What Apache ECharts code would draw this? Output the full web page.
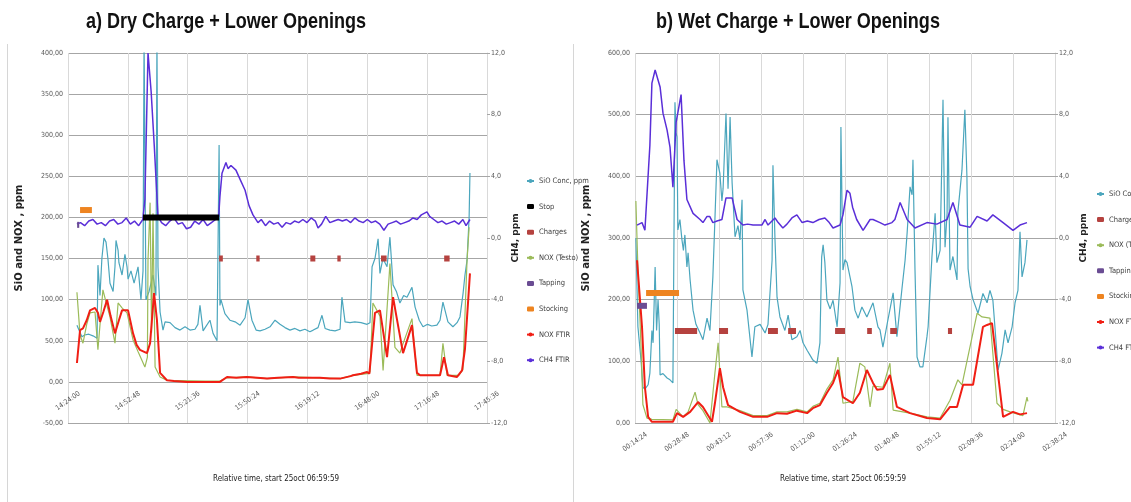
<!DOCTYPE html>
<html>
<head>
<meta charset="utf-8">
<title>SiO / NOX / CH4</title>
<script src="https://cdn.jsdelivr.net/npm/echarts@6/dist/echarts.min.js"></script>
</head>
<body style="margin:0;background:#fff">
<div id="main" style="width:1131px;height:502px;"></div>
<script type="text/javascript">
// time is in minutes (panel a: clock time, panel b: relative time)
var ticksA = { min: 864, max: 1065.6, step: 28.8 };   // 14:24:00 .. 17:45:36
var ticksB = { min: 14.4, max: 158.4, step: 14.4 };   // 00:14:24 .. 02:38:24

// ---- a) Dry charge ----
var sioA = [[868.3,69],[869.8,60],[870.7,55],[872,57],[874,58],[876,56],[878,53],
  [878.4,142],[879.4,105],[880.3,150],[881.3,175],[882.3,170],[883.2,150],[884.2,120],[885.7,110],[886.6,140],[887.1,172],
  [888.1,160],[888.5,145],[890,130],[891.4,155],[892.4,140],[892.9,125],[894.3,135],[895.8,120],[897.7,140],[899.1,100],
  [900.1,135],[900.6,420],[901.5,100],[903,110],[904.9,130],[906.3,105],[906.8,420],[907.3,140],[908.3,85],[909.7,63],
  [910.7,73],[913.1,72],[915.5,66],[917.9,63],[920.3,67],[922.7,63],[925.1,64],[926.5,70],[927.5,93],[929,62],[930,66],
  [932.3,75],[933.8,59],[935.7,50],[936.4,52],[936.7,288],[937.1,93],[937.6,100],[939.5,83],[941.9,75],[944.4,73],
  [946.8,69],[949.2,78],[950.6,100],[952.5,75],[954.5,63],[956.4,62],[958.8,64],[961.2,67],[963.6,75],[966,70],
  [968.4,66],[970.8,63],[973.2,65],[975.6,62],[978,64],[980.4,61],[982,63],[984.3,66],[986.2,81],[987.7,65],[990,63],
  [992.5,62],[994.9,64],[995.8,103],[997.3,73],[999.7,72],[1002,73],[1005,72],[1007.9,70],[1009.3,72],
  [1010.3,140],[1011.7,150],[1013.2,174],[1014.1,132],[1015.5,150],[1017.5,140],[1018.9,176],[1020.4,118],[1022,110],
  [1023.7,96],[1025.5,105],[1027.1,103],[1029.5,115],[1031,91],[1033,75],[1034.8,67],[1037,70],[1039,68],[1041.5,69],
  [1043,75],[1044.4,97],[1046.8,73],[1049.2,67],[1051.2,72],[1052.6,79],[1054.1,108],[1055,130],[1056,148],[1057,200],[1057.4,254]];

var noxTestoA = [[868.3,109],[869.8,57],[871.2,47],[873,70],[874.6,84],[877,85],[878.4,39],[880.8,112],[882,100],
  [884.2,79],[886.6,47],[888.1,96],[890,90],[892.4,84],[895.3,51],[898,35],[901,18],[902.2,30],[902.5,148],[903.5,218],
  [904.2,60],[904.9,205],[905.9,18],[908.3,6],[911.6,2],[930,1],[937.1,1],[940.5,5],[950,6],[960,4],[972,6],[985,5],
  [995,4],[1001,8],[1007.9,10],[1009.3,12],[1010.7,96],[1014.1,80],[1015.6,14],[1018.9,144],[1021.3,42],[1023.7,35],
  [1025,45],[1029.5,77],[1031.9,8],[1043,8],[1044.4,47],[1046.4,8],[1052,8],[1054,15],[1056,148],[1057,188]];

var noxFtirA = [[868.3,23],[869.8,63],[871.2,65],[873,75],[874.6,87],[877,90],[878.4,84],[879.4,73],[881,85],[882.8,100],
  [884.5,80],[886.6,59],[888.5,75],[890,87],[892.9,87],[895.3,59],[897,45],[898.6,39],[902,35],[903.5,47],[905.4,108],
  [906.8,75],[908.3,11],[911.6,2],[915,1],[921.3,0],[930,0],[937.1,0],[940.5,6],[945,5],[950,6],[955,5],[959.7,4],
  [965,5],[972.3,6],[975,5],[980,5],[985.2,5],[990,4],[994.9,4],[1000,7],[1001.1,8],[1005,10],[1007.9,12],[1009,10],
  [1011.7,84],[1014.1,87],[1017.5,30],[1020.4,103],[1022,80],[1025.2,35],[1029.5,69],[1031.9,11],[1033.4,8],[1043,8],
  [1044.9,30],[1046.8,8],[1051.2,6],[1053.6,14],[1055,40],[1057.4,132]];

var ch4A = [[868.3,0.9],[870,1.0],[872,0.8],[874,1.1],[876,1.2],[878,0.9],[880,1.0],[882,0.8],[884,1.1],[886,1.2],
  [888,0.9],[890,1.0],[892,1.3],[894,0.9],[896,1.1],[898,0.8],[900,1.2],[901,2.5],[902.5,12.0],[904,9.5],[905.5,6.0],
  [907.3,1.4],[909,1.0],[911,0.8],[913,1.1],[915,1.3],[917,0.9],[919,1.0],[921,0.6],[923,0.7],[925,1.1],[927,0.9],
  [929,1.2],[931,0.8],[933,1.0],[935,1.2],[936.5,1.4],[937.1,2.7],[938.1,4.2],[940,4.9],[941,4.5],[942.4,4.7],
  [944.8,4.4],[946.8,3.8],[949.2,3.1],[951.1,2.1],[953,1.5],[955.4,1.0],[957,1.2],[959,0.8],[961,1.1],[963,0.9],
  [965,1.0],[967,0.7],[969,1.0],[971,0.9],[973,1.1],[975,1.0],[977,1.2],[979,1.0],[981,1.3],[983,1.1],[984.3,0.65],
  [986,0.9],[988,1.4],[990,1.0],[992,1.1],[994,1.2],[996,1.1],[998,1.2],[1000,1.0],[1002,1.3],[1004,1.1],[1006,1.0],
  [1008,1.2],[1010,1.0],[1012,1.1],[1014,0.9],[1016,0.5],[1018,0.9],[1020,1.0],[1022,1.1],[1024,0.9],[1026,1.0],
  [1028,1.1],[1030,1.3],[1032,1.2],[1034,1.5],[1036.7,1.7],[1038,1.4],[1040,1.2],[1042,1.0],[1044,1.1],[1046,0.9],
  [1048,1.0],[1050,1.1],[1052,0.9],[1054,1.2],[1055.5,0.8],[1057.4,1.2]];

// event bars: [start, end] and the level they are drawn at
var stopA = [[900.1, 936.7]], stopLevelA = 200;
var stockingA = [[869.8, 875.5]], stockingLevelA = 209;
var tappingA = [[868.4, 869.4]], tappingLevelA = 191;
var chargesA = [[936.7,938.5],[954.6,956.2],[980.6,983.0],[993.6,995.2],[1014.6,1017.3],[1045.0,1047.6]], chargesLevelA = 150;

// ---- b) Wet charge ----
var sioB = [[14.7,300],[15.4,156],[16.5,100],[17.1,58],[17.8,55],[18.9,62],[19.5,81],[20.2,150],[20.6,130],[21.3,253],
  [21.8,150],[22.3,200],[22.7,160],[23.0,78],[24.0,80],[25.4,73],[26.4,70],[27.4,65],[27.8,68],[28.1,520],[28.5,470],
  [28.8,464],[29.1,313],[29.8,330],[30.5,297],[31.0,280],[31.5,305],[32.2,253],[32.6,276],[33.3,232],[34.3,183],
  [35.3,160],[36.7,146],[37.7,135],[39.1,170],[40.1,150],[41.1,237],[41.8,330],[42.5,427],[43.5,405],[44.2,360],
  [44.6,380],[45.6,502],[46.3,380],[47.0,496],[47.7,389],[48.7,302],[49.7,320],[50.4,297],[51.1,362],[51.4,216],
  [52.8,183],[54.5,107],[55.5,156],[57.3,160],[59.0,146],[60.0,160],[61.4,264],[61.7,418],[62.4,297],[63.1,204],
  [64.1,172],[65.8,150],[66.9,175],[68.2,135],[69.9,140],[71.0,150],[72.0,130],[73.4,118],[74.4,110],[75.4,102],
  [76.8,97],[77.8,130],[78.4,269],[78.9,289],[79.5,260],[80.2,199],[81.3,185],[82.3,199],[83.7,156],[84.7,227],
  [85.0,480],[85.7,248],[86.4,265],[87.1,260],[88.8,221],[89.8,183],[90.9,170],[92.2,188],[93.9,172],[96.0,195],
  [97.7,156],[98.4,151],[99.4,123],[101.1,167],[102.9,211],[104.2,140],[106.0,221],[107.0,264],[107.7,308],[108.7,383],
  [109.4,370],[109.7,427],[110.4,248],[111.1,107],[112.1,91],[113.1,91],[114.5,140],[114.9,156],[116.2,269],[117.3,340],
  [117.9,260],[119.0,280],[120.0,524],[120.7,285],[121.4,340],[121.7,496],[122.4,248],[123.4,270],[124.8,232],
  [125.1,342],[126.5,410],[127.5,508],[128.2,400],[128.6,250],[129.3,221],[130.3,200],[132.0,178],[133.7,210],
  [135.1,195],[136.1,215],[137.1,199],[137.8,156],[138.9,86],[140.2,113],[141.3,151],[142.3,130],[143.7,156],
  [144.7,195],[145.7,215],[146.4,310],[147.1,237],[148.1,260],[148.8,297]];

var noxTestoB = [[14.7,360],[15.4,250],[16.5,120],[17.1,30],[18.5,8],[20.2,6],[27.4,5],[28.5,22],[30.9,10],[32.6,18],
  [35.0,50],[36.0,30],[37.7,20],[40.1,0],[41.8,81],[42.9,130],[44.2,26],[46.0,26],[50.4,20],[54.9,12],[59.7,12],
  [63.1,18],[66.5,18],[69.9,22],[73.4,18],[75.4,27],[77.8,32],[80.2,55],[82.3,70],[84.0,107],[85.7,32],[89.1,35],
  [91.5,97],[93.2,91],[95.0,26],[96.0,60],[99.4,58],[101.8,97],[102.9,21],[108.7,16],[114.5,10],[119.0,8],[122.4,37],
  [125.1,70],[126.5,62],[131.7,178],[133.4,172],[136.1,170],[138.5,32],[140.6,22],[143.0,18],[147.4,12],[148.8,42],[149.1,35]];

var noxFtirB = [[15.1,264],[16.8,156],[17.8,58],[18.9,10],[20.2,2],[25,2],[27.4,2],[28.8,16],[30.9,10],[33.3,18],
  [36.0,34],[37.7,26],[40.8,2],[41.8,32],[43.5,89],[44.6,58],[46.3,29],[50.4,18],[54.9,10],[59.7,10],[63.1,16],
  [66.5,15],[69.9,20],[73.4,16],[75.4,24],[77.8,29],[80.2,49],[82.3,65],[84.0,86],[85.7,42],[89.1,32],[91.5,49],
  [93.9,86],[96.0,65],[97.4,54],[99.4,55],[101.8,78],[104.2,26],[108.7,16],[114.5,8],[119.0,6],[122.4,26],[124.8,26],
  [126.9,62],[130.3,62],[133.7,156],[135.1,159],[136.8,162],[140.6,10],[144.0,18],[146.4,14],[148.8,16]];

var ch4B = [[15.1,0.84],[16.8,1.0],[17.8,0.5],[19.5,6.0],[20.2,10.05],[21.3,10.9],[23.0,9.8],[24.0,8.1],[25.4,7.0],
  [26.4,5.9],[27.4,3.3],[28.5,7.5],[30.2,9.3],[31.2,5.0],[32.2,2.5],[34.3,1.6],[36.7,1.2],[37.7,1.0],[39.1,1.4],
  [40,1.4],[41.1,1.0],[42.5,1.1],[44.2,1.2],[45.6,2.6],[47.7,2.6],[49.4,1.2],[51.4,0.84],[53,0.9],[54.9,0.84],
  [57.9,0.84],[59.0,1.2],[60.0,0.84],[62.4,1.3],[63.5,1.0],[65.1,0.65],[66.5,0.9],[68.2,1.3],[69.9,1.5],[71.7,1.0],
  [73.5,1.1],[75.4,1.0],[77.5,1.2],[79.5,1.3],[81,1.0],[82.3,0.65],[84.7,0.84],[85.7,1.5],[87.1,3.1],[88.1,2.9],
  [89,2.0],[90.4,1.2],[92.6,0.5],[95.0,1.2],[96,1.2],[98.4,1.0],[100.1,0.84],[102.5,1.0],[103.5,1.2],[105.3,2.3],
  [107.7,1.2],[110.4,0.65],[114.5,1.0],[117.9,0.9],[121.4,1.2],[123.4,2.3],[125.8,0.84],[129.3,0.7],[131.7,1.4],
  [135.1,1.1],[137.1,1.5],[140.6,1.0],[144.0,0.5],[146.4,0.84],[148.8,1.0]];

var tappingB = [[15.1, 18.5]], tappingLevelB = 190;
var stockingB = [[18.2, 29.5]], stockingLevelB = 211;
var chargesB = [[28.1,35.7],[43.2,46.3],[60.0,63.4],[66.9,69.6],[83.0,86.4],[94.0,95.6],[101.9,104.2],[121.7,123.1]], chargesLevelB = 149;

var legendA = ['SiO Conc, ppm', 'Stop', 'Charges', 'NOX (Testo)', 'Tapping', 'Stocking', 'NOX FTIR', 'CH4 FTIR'];
var legendB = ['SiO Conc, ppm', 'Charges', 'NOX (Testo)', 'Tapping', 'Stocking', 'NOX FTIR', 'CH4 FTIR'];
var barNames = ['Stop', 'Charges', 'Tapping', 'Stocking'];

var narrow = "'Liberation Sans Narrow', 'DejaVu Sans Condensed', sans-serif";
var colors = {
    sio: '#4BA6BD', testo: '#9BBB59', ftir: '#F01E14', ch4: '#5A2FD8',
    stop: '#000000', charges: '#B5423F', tapping: '#6A4C93', stocking: '#EE8420'
};

function pad(n) { return (n < 10 ? '0' : '') + n; }
function fmtTime(v) {
    var s = Math.round(v * 60);
    return pad(Math.floor(s / 3600)) + ':' + pad(Math.floor(s % 3600 / 60)) + ':' + pad(s % 60);
}

// segments -> line data with gaps
function segData(segs, level) {
    var out = [];
    segs.forEach(function (s) {
        out.push([s[0], level], [s[1], level], [s[1], '-']);
    });
    return out;
}

function line(name, data, color, width, grid, yIdx, z) {
    return {
        name: name, type: 'line', data: data, xAxisIndex: grid, yAxisIndex: yIdx,
        symbol: 'none', showSymbol: false, z: z || 2,
        lineStyle: { color: color, width: width }, itemStyle: { color: color }
    };
}
function bar(name, segs, level, color, grid) {
    var s = line(name, segData(segs, level), color, 6, grid, grid * 2, 4);
    s.lineStyle.cap = 'butt';
    return s;
}

// x labels sit just under the 0 line: margin is measured from the bottom of the grid
function xAxis(grid, t, margin) {
    return {
        type: 'value', gridIndex: grid, min: t.min, max: t.max, interval: t.step,
        axisLine: { show: false, onZero: false },
        axisTick: { show: false },
        axisLabel: {
            formatter: fmtTime, rotate: 35, align: 'center', verticalAlign: 'middle', margin: margin,
            fontSize: 7, color: '#595959', fontFamily: narrow, showMinLabel: true, showMaxLabel: true
        },
        splitLine: { show: true, lineStyle: { color: '#D9D9D9' } }
    };
}
function leftAxis(grid, min, max, step) {
    return {
        type: 'value', gridIndex: grid, min: min, max: max, interval: step,
        name: 'SiO and NOX , ppm', nameLocation: 'middle', nameGap: 44,
        nameTextStyle: { fontSize: 10, fontWeight: 'bold', color: '#222', fontFamily: 'DejaVu Sans' },
        axisLine: { show: false }, axisTick: { show: false },
        axisLabel: { fontSize: 7, color: '#595959', fontFamily: narrow, margin: 5,
            formatter: function (v) { return v.toFixed(2).replace('.', ','); } },
        splitLine: { lineStyle: { color: '#A6A6A6' } }
    };
}
function rightAxis(grid) {
    return {
        type: 'value', gridIndex: grid, position: 'right', min: -12, max: 12, interval: 4,
        name: 'CH4, ppm', nameLocation: 'middle', nameGap: 14,
        nameTextStyle: { fontSize: 9, fontWeight: 'bold', color: '#222', fontFamily: 'DejaVu Sans' },
        axisLine: { show: true, lineStyle: { color: '#D9D9D9' } },
        axisTick: { show: true, length: 3, lineStyle: { color: '#A6A6A6' } },
        axisLabel: { fontSize: 7, color: '#595959', fontFamily: narrow, margin: 4,
            formatter: function (v) { return v.toFixed(1).replace('.', ','); } },
        splitLine: { show: false }
    };
}
function legend(left, top, names) {
    return {
        orient: 'vertical', left: left, top: top, itemWidth: 7, itemHeight: 5, itemGap: 15.6,
        selectedMode: false,
        data: names.map(function (n) {
            return barNames.indexOf(n) >= 0 ? { name: n, icon: 'roundRect' } : { name: n };
        }),
        textStyle: { fontSize: 7.5, lineHeight: 10, color: '#404040', fontFamily: narrow }
    };
}
function title(text, x) {
    return {
        type: 'text', x: x, y: 22, scaleX: 0.82,
        style: { text: text, align: 'center', verticalAlign: 'middle', fill: '#111',
            font: 'bold 22px "Liberation Sans", Arial, sans-serif' }
    };
}

var myChart = echarts.init(document.getElementById('main'));
myChart.setOption({
    animation: false,
    backgroundColor: '#fff',
    legend: [legend(521, 171, legendA), legend(1091, 184, legendB)],
    grid: [
        { left: 68, right: 644, top: 53, bottom: 79 },
        { left: 635, right: 76, top: 53, bottom: 79 }
    ],
    xAxis: [xAxis(0, ticksA, -22), xAxis(1, ticksB, 19)],
    yAxis: [leftAxis(0, -50, 400, 50), rightAxis(0), leftAxis(1, 0, 600, 100), rightAxis(1)],
    graphic: [
        title('a) Dry Charge + Lower Openings', 226),
        title('b) Wet Charge + Lower Openings', 798),
        { type: 'line', shape: { x1: 7.5, y1: 44, x2: 7.5, y2: 502 }, style: { stroke: '#D6D6D6' } },
        { type: 'line', shape: { x1: 573.5, y1: 44, x2: 573.5, y2: 502 }, style: { stroke: '#D6D6D6' } },
        { type: 'text', left: 213, top: 475, style: { text: 'Relative time, start 25oct 06:59:59', fontSize: 8, fill: '#222', fontFamily: narrow } },
        { type: 'text', left: 780, top: 475, style: { text: 'Relative time, start 25oct 06:59:59', fontSize: 8, fill: '#222', fontFamily: narrow } }
    ],
    series: [
        line('SiO Conc, ppm', sioA, colors.sio, 1.2, 0, 0),
        line('NOX (Testo)', noxTestoA, colors.testo, 1.2, 0, 0),
        line('NOX FTIR', noxFtirA, colors.ftir, 2, 0, 0),
        line('CH4 FTIR', ch4A, colors.ch4, 1.5, 0, 1),
        bar('Stop', stopA, stopLevelA, colors.stop, 0),
        bar('Charges', chargesA, chargesLevelA, colors.charges, 0),
        bar('Tapping', tappingA, tappingLevelA, colors.tapping, 0),
        bar('Stocking', stockingA, stockingLevelA, colors.stocking, 0),

        line('SiO Conc, ppm', sioB, colors.sio, 1.2, 1, 2),
        line('NOX (Testo)', noxTestoB, colors.testo, 1.2, 1, 2),
        line('NOX FTIR', noxFtirB, colors.ftir, 2, 1, 2),
        line('CH4 FTIR', ch4B, colors.ch4, 1.5, 1, 3),
        bar('Charges', chargesB, chargesLevelB, colors.charges, 1),
        bar('Tapping', tappingB, tappingLevelB, colors.tapping, 1),
        bar('Stocking', stockingB, stockingLevelB, colors.stocking, 1)
    ]
});
</script>
</body>
</html>
